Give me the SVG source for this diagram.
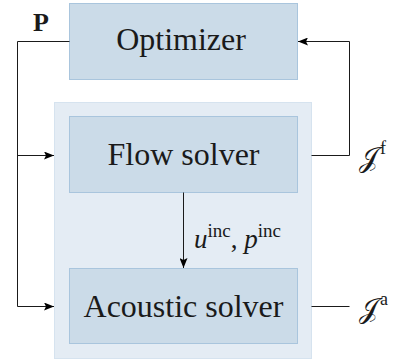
<svg xmlns="http://www.w3.org/2000/svg" width="401" height="360" viewBox="0 0 401 360">
<defs>
<marker id="ah" viewBox="0 0 10 8" refX="10" refY="4" markerWidth="10" markerHeight="8" markerUnits="userSpaceOnUse" orient="auto">
<path d="M0,0 L10,4 L0,8 L2,4 Z" fill="#000"/>
</marker>
<style>
.box{fill:#cbdbe8;stroke:#a9c5dd;stroke-width:1}
.panel{fill:#e4ecf4;stroke:#d6e3ef;stroke-width:1}
.ln{fill:none;stroke:#1a1a1a;stroke-width:1}
</style>
</defs>
<rect class="panel" x="54.5" y="102.5" width="257" height="256"/>
<g id="optimizer">
<rect class="box" x="69.5" y="3.5" width="228" height="76"/>
<text x="181" y="49.5" font-family="Liberation Serif" font-size="32" fill="#1a1a1a" text-anchor="middle">Optimizer</text>
</g>
<g id="flow">
<rect class="box" x="69.5" y="116.5" width="228" height="76"/>
<text x="183.5" y="165" font-family="Liberation Serif" font-size="32" fill="#1a1a1a" text-anchor="middle">Flow solver</text>
</g>
<g id="acoustic">
<rect class="box" x="69.5" y="268.5" width="228" height="75"/>
<text x="183.5" y="317" font-family="Liberation Serif" font-size="32" fill="#1a1a1a" text-anchor="middle">Acoustic solver</text>
</g>
<g id="connectors">
<path class="ln" d="M69.5,41.5 H17.5 V306.5 H54" marker-end="url(#ah)"/>
<path class="ln" d="M17.5,155.5 H54" marker-end="url(#ah)"/>
<path class="ln" d="M311.5,155.5 H349.5 V41.5 H298" marker-end="url(#ah)"/>
<path class="ln" d="M311.5,306.5 H349.5"/>
<path class="ln" d="M183.5,192.5 V268" marker-end="url(#ah)"/>
</g>
<text x="33" y="31" font-family="Liberation Serif" font-size="26" font-weight="bold" fill="#1a1a1a">P</text>
<text x="359" y="167" font-family="DejaVu Serif" font-size="28" fill="#1a1a1a">𝒥<tspan font-family="Liberation Serif" font-size="18" dy="-13" dx="2">f</tspan></text>
<text x="359" y="318" font-family="DejaVu Serif" font-size="28" fill="#1a1a1a">𝒥<tspan font-family="Liberation Serif" font-size="18" dy="-13" dx="2">a</tspan></text>
<text x="194" y="248" font-family="Liberation Serif" font-size="27" fill="#1a1a1a"><tspan font-style="italic">u</tspan><tspan font-size="19" dy="-11">inc</tspan><tspan dy="11">, </tspan><tspan font-style="italic">p</tspan><tspan font-size="19" dy="-11">inc</tspan></text>
</svg>
